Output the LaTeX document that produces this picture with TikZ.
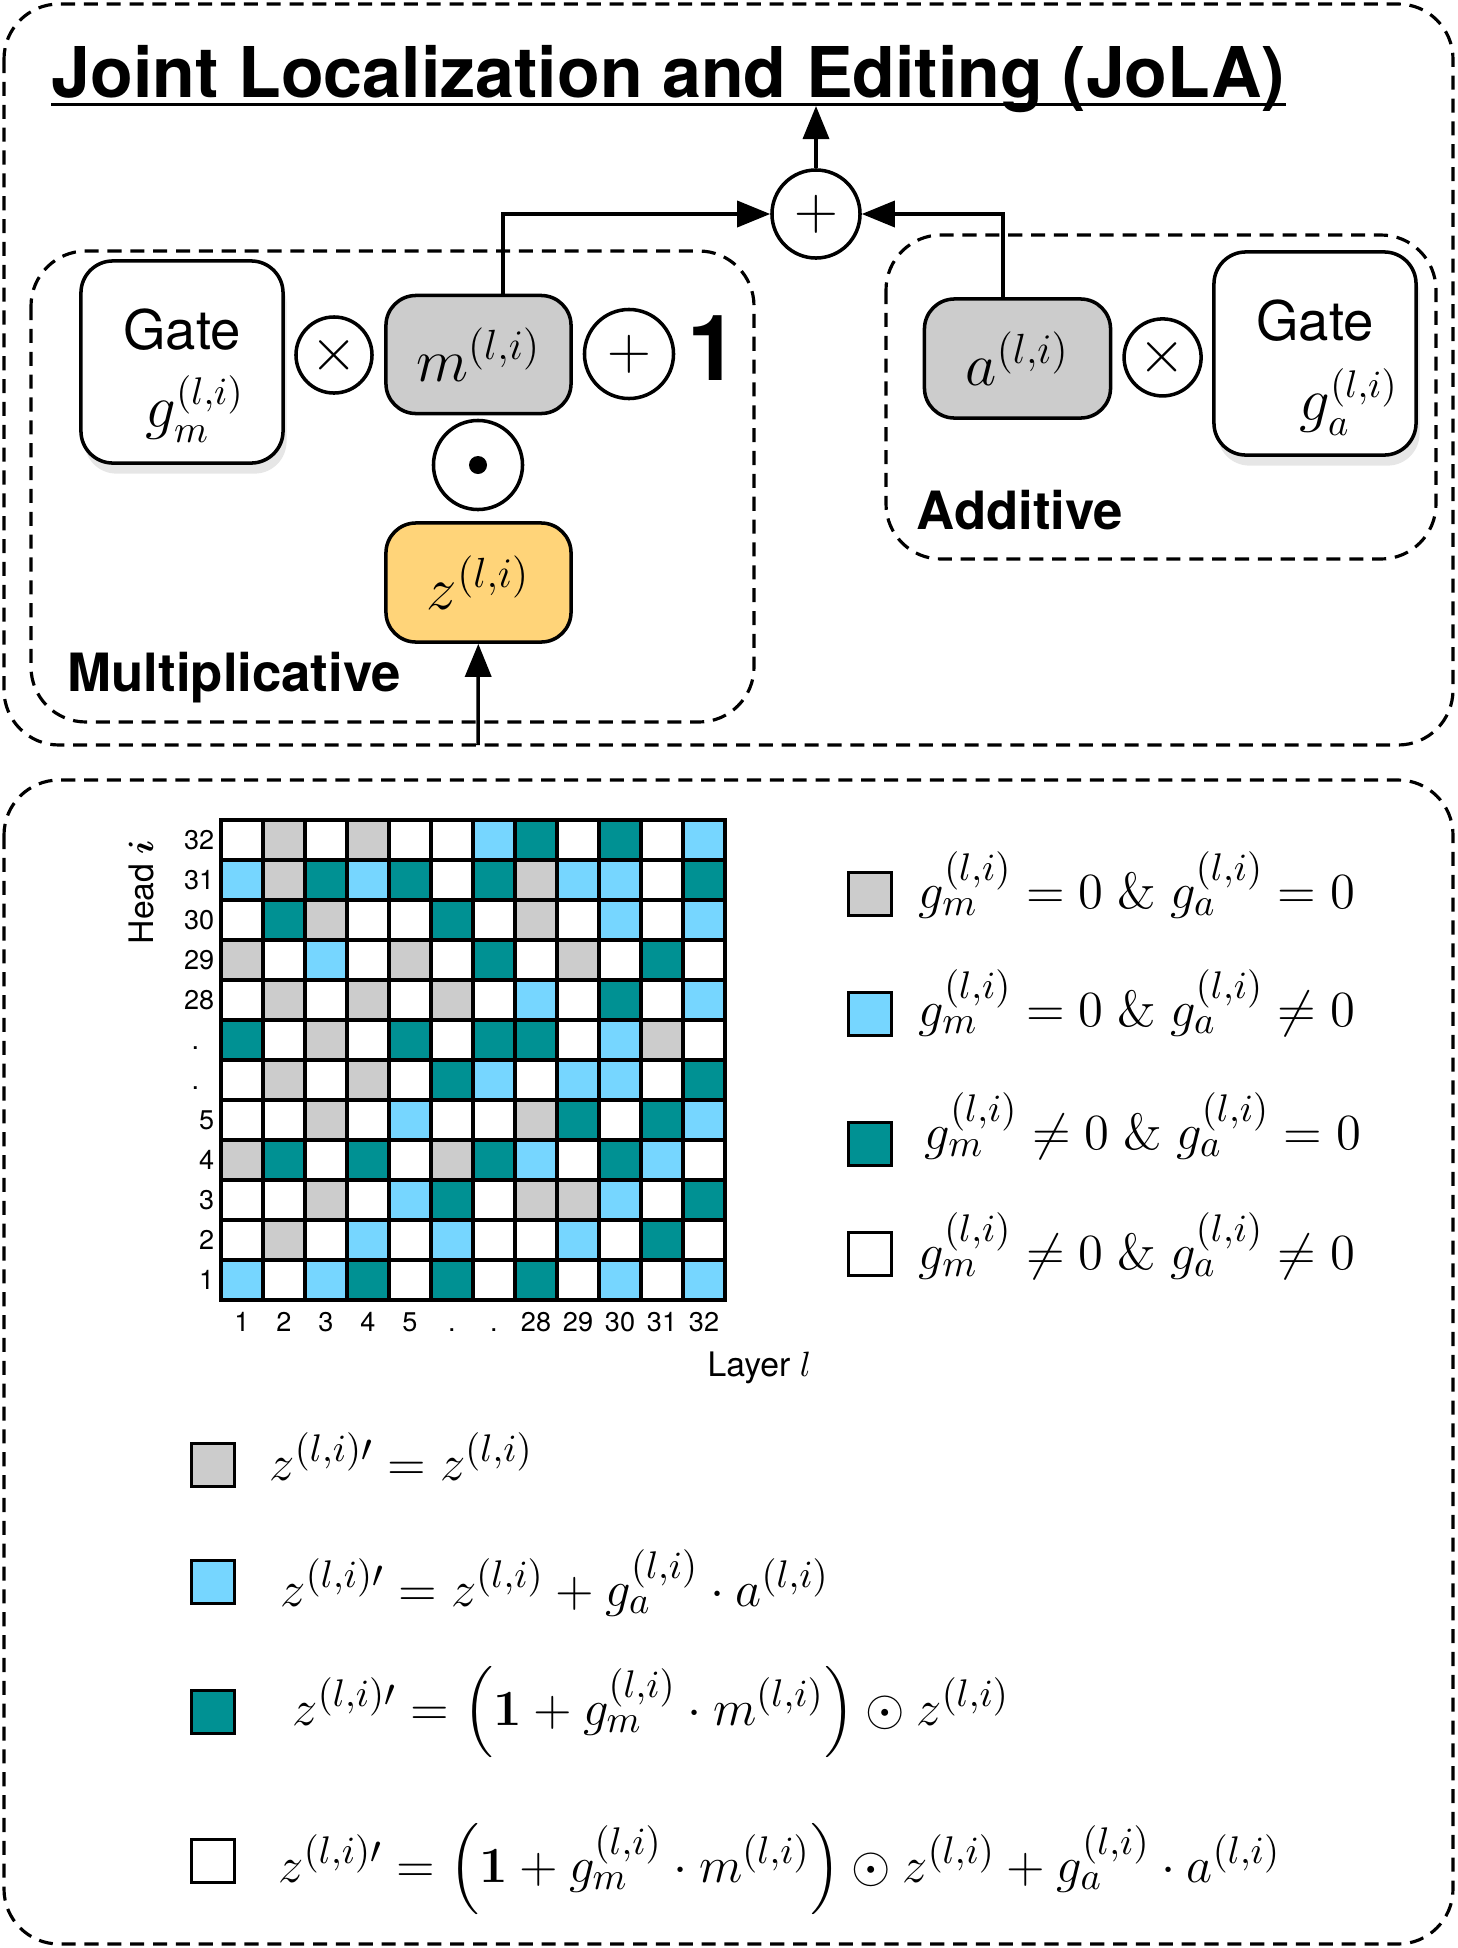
\documentclass[tikz,border=0pt]{standalone}
\usepackage{amsmath}
\usepackage{bm}
\usepackage[no-math]{fontspec}
\setmainfont{TeX Gyre Heros}
\usetikzlibrary{arrows.meta,shadows,positioning}
\definecolor{jolagray}{RGB}{204,204,204}
\definecolor{jolasky}{RGB}{118,214,255}
\definecolor{jolateal}{RGB}{0,145,147}
\definecolor{jolayellow}{RGB}{255,212,121}
\colorlet{cellw}{white}
\colorlet{cellg}{jolagray}
\colorlet{cellb}{jolasky}
\colorlet{cellt}{jolateal}

\tikzset{
  groupbox/.style={draw, dash pattern=on 4pt off 2.5pt, line width=0.9pt, rounded corners=0.55cm},
  gatebox/.style={draw, line width=1pt, rounded corners=0.32cm, fill=white, minimum width=2.02cm, minimum height=2.02cm,
    drop shadow={opacity=0.2, shadow xshift=1pt, shadow yshift=-3pt}},
  gatetext/.style={anchor=base, inner sep=0pt},
  vecbox/.style={draw, line width=1pt, rounded corners=0.3cm, minimum width=1.85cm, minimum height=1.18cm,
    font=\fontsize{17}{20}\selectfont},
  opcirc/.style={draw, circle, line width=1pt, inner sep=0pt, minimum size=0.89cm, font=\fontsize{16.5}{18}\selectfont},
  flow/.style={line width=1pt, -{Triangle[length=0.33cm, width=0.26cm]}},
  gridcell/.style={draw, line width=1pt},
  swatch/.style={draw, line width=1pt, minimum size=0.43cm, inner sep=0pt},
  ticklab/.style={font=\fontsize{7.7}{9}\selectfont, inner sep=0pt},
  keytext/.style={anchor=base west, inner sep=0pt, font=\fontsize{15}{18}\selectfont},
  grouplab/.style={anchor=base west, inner sep=0pt, font=\fontsize{15}{18}\selectfont\bfseries},
}

\begin{document}
\begin{tikzpicture}[x=0.01cm, y=-0.01cm]
\useasboundingbox (0,0) rectangle (1457,1948);

% frames
\draw[groupbox] (4,4) rectangle (1453,745);
\draw[groupbox] (4,780) rectangle (1453,1944);
\draw[groupbox] (31,251) rectangle (754,722);
\draw[groupbox] (886,235) rectangle (1436,559);

% title
\node[anchor=base west, inner sep=0pt, font=\fontsize{19.9}{24}\selectfont\bfseries] (title) at (51,97) {Joint Localization and Editing (JoLA)};
\draw[line width=1.1pt] ([yshift=-0.075cm]title.base west) -- ([yshift=-0.075cm]title.base east);

\node[opcirc, minimum size=0.88cm, font=\fontsize{18}{20}\selectfont] (sum) at (816,214) {$+$};
\coordinate (titlefoot) at (816,106);
\draw[flow] (sum) -- (titlefoot);

% multiplicative
\node[gatebox] (gatem) at (182,362) {};
\node[gatetext, font=\fontsize{15.5}{18}\selectfont] (gatemlab) at (182,349) {Gate};
\node[gatetext, font=\fontsize{16}{18}\selectfont] (gatemsym) at (195,427) {$g_m^{(l,i)}$};
\node[opcirc, minimum size=0.76cm] (timesm) at (334,355) {$\times$};
\node[vecbox, fill=jolagray] (mvec) at (478.5,354.5) {$m^{(l,i)}$};
\node[opcirc] (plusm) at (629,354) {$+$};
\node[font=\fontsize{26}{30}\selectfont\bfseries] (one) at (713,348) {1};
\node[opcirc] (odot) at (478,465) {};
\fill (odot.center) circle (9);
\node[vecbox, fill=jolayellow, minimum height=1.19cm] (zvec) at (478.5,582.5) {$z^{(l,i)}$};
\coordinate (zin) at (478,745);
\draw[flow] (zin) -- (zvec);
\draw[flow] ([xshift=0.245cm]mvec.north) |- (sum.west);
\node[grouplab] (multlab) at (67,691) {Multiplicative};

% additive
\node[vecbox, fill=jolagray, minimum width=1.86cm, minimum height=1.19cm] (avec) at (1017.5,358.5) {$a^{(l,i)}$};
\node[opcirc, minimum size=0.77cm] (timesa) at (1162.6,357.4) {$\times$};
\node[gatebox, minimum height=2.03cm] (gatea) at (1315,353.5) {};
\node[gatetext, font=\fontsize{15.5}{18}\selectfont] (gatealab) at (1315,340) {Gate};
\node[gatetext, font=\fontsize{16}{18}\selectfont] (gateasym) at (1349,420) {$g_a^{(l,i)}$};
\draw[flow] ([xshift=-0.145cm]avec.north) |- (sum.east);
\node[grouplab] (addlab) at (916,529) {Additive};

% head/layer map
\foreach \hrow [count=\ri] in {
  {w,g,w,g,w,w,b,t,w,t,w,b},
  {b,g,t,b,t,w,t,g,b,b,w,t},
  {w,t,g,w,w,t,w,g,w,b,w,b},
  {g,w,b,w,g,w,t,w,g,w,t,w},
  {w,g,w,g,w,g,w,b,w,t,w,b},
  {t,w,g,w,t,w,t,t,w,b,g,w},
  {w,g,w,g,w,t,b,w,b,b,w,t},
  {w,w,g,w,b,w,w,g,t,w,t,b},
  {g,t,w,t,w,g,t,b,w,t,b,w},
  {w,w,g,w,b,t,w,g,g,b,w,t},
  {w,g,w,b,w,b,w,w,b,w,t,w},
  {b,w,b,t,w,t,w,t,w,b,w,b}} {
  \foreach \lcol [count=\ci] in \hrow
    \draw[gridcell, fill=cell\lcol] ({221+42*(\ci-1)},{820+40*(\ri-1)}) rectangle ++(42,40);
}
\foreach \lab [count=\ri] in {32,31,30,29,28,{.\hphantom{0}},{.\hphantom{0}},5,4,3,2,1}
  \node[ticklab, anchor=base east] (head\ri) at (215,{849+40*(\ri-1)}) {\lab};
\foreach \lab [count=\ci] in {1,2,3,4,5,.,.,28,29,30,31,32}
  \node[ticklab, anchor=base] (layer\ci) at ({242+42*(\ci-1)},1331) {\lab};
\node[rotate=90, font=\fontsize{9.6}{11}\selectfont] (headlab) at (141,892) {Head $\bm{i}$};
\node[anchor=base west, inner sep=0pt, font=\fontsize{9.6}{11}\selectfont] (layerlab) at (707,1376) {Layer $l$};

% gate legend
\node[swatch, fill=jolagray] (keyg) at (870,894) {};
\node[keytext] (keygtxt) at (918,908) {$g_m^{(l,i)} = 0 \;\&\; g_a^{(l,i)} = 0$};
\node[swatch, fill=jolasky] (keyb) at (870,1014) {};
\node[keytext] (keybtxt) at (918,1026) {$g_m^{(l,i)} = 0 \;\&\; g_a^{(l,i)} \neq 0$};
\node[swatch, fill=jolateal] (keyt) at (870,1144) {};
\node[keytext] (keyttxt) at (924,1149) {$g_m^{(l,i)} \neq 0 \;\&\; g_a^{(l,i)} = 0$};
\node[swatch, fill=white] (keyw) at (870,1254) {};
\node[keytext] (keywtxt) at (918,1269) {$g_m^{(l,i)} \neq 0 \;\&\; g_a^{(l,i)} \neq 0$};

% update rules
\node[swatch, fill=jolagray] (ruleg) at (213,1465) {};
\node[keytext] (rulegtxt) at (269,1480) {$z^{(l,i)\prime} = z^{(l,i)}$};
\node[swatch, fill=jolasky] (ruleb) at (213,1582) {};
\node[keytext] (rulebtxt) at (280,1606) {$z^{(l,i)\prime} = z^{(l,i)} + g_a^{(l,i)} \cdot a^{(l,i)}$};
\node[swatch, fill=jolateal] (rulet) at (213,1712) {};
\node[keytext] (rulettxt) at (292,1725) {$z^{(l,i)\prime} = \Big(\mathbf{1} + g_m^{(l,i)} \cdot m^{(l,i)}\Big) \odot z^{(l,i)}$};
\node[swatch, fill=white] (rulew) at (213,1861) {};
\node[keytext] (rulewtxt) at (278,1882) {$z^{(l,i)\prime} = \Big(\mathbf{1} + g_m^{(l,i)} \cdot m^{(l,i)}\Big) \odot z^{(l,i)} + g_a^{(l,i)} \cdot a^{(l,i)}$};
\end{tikzpicture}
\end{document}
